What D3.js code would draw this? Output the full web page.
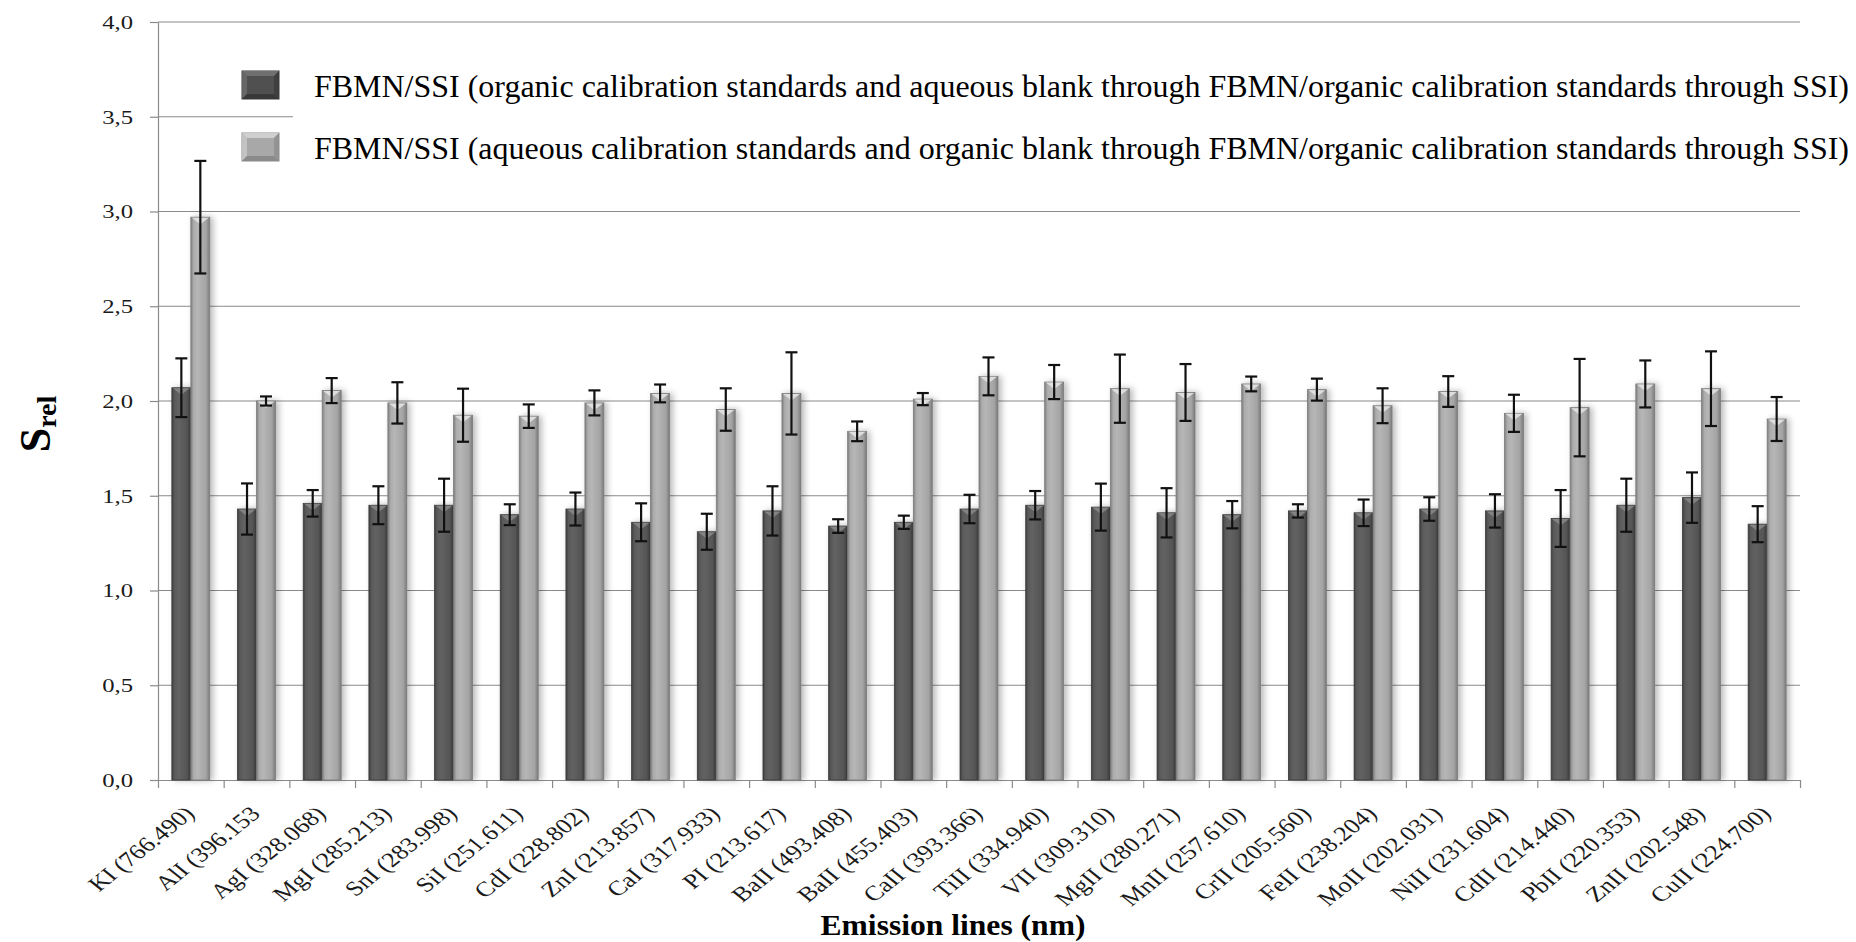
<!DOCTYPE html>
<html>
<head>
<meta charset="utf-8">
<script src="https://cdn.jsdelivr.net/npm/d3@7"></script>
<style>
  body { margin: 0; background: #fff; }
  svg { display: block; font-family: 'Liberation Serif', 'Times New Roman', serif; }
</style>
</head>
<body>
<svg id="chart" width="1856" height="942"></svg>
<script>
const categories = [
  'KI (766.490)', 'AlI (396.153', 'AgI (328.068)', 'MgI (285.213)', 'SnI (283.998)',
  'SiI (251.611)', 'CdI (228.802)', 'ZnI (213.857)', 'CaI (317.933)', 'PI (213.617)',
  'BaII (493.408)', 'BaII (455.403)', 'CaII (393.366)', 'TiII (334.940)', 'VII (309.310)',
  'MgII (280.271)', 'MnII (257.610)', 'CrII (205.560)', 'FeII (238.204)', 'MoII (202.031)',
  'NiII (231.604)', 'CdII (214.440)', 'PbII (220.353)', 'ZnII (202.548)', 'CuII (224.700)'
];

// organic calibration standards / aqueous blank (dark bars)
const organicValues = [2.07, 1.43, 1.46, 1.45, 1.45, 1.40, 1.43, 1.36, 1.31, 1.42, 1.34, 1.36, 1.43,
  1.45, 1.44, 1.41, 1.40, 1.42, 1.41, 1.43, 1.42, 1.38, 1.45, 1.49, 1.35];
const organicErrors = [0.155, 0.135, 0.07, 0.10, 0.14, 0.055, 0.087, 0.10, 0.095, 0.13, 0.036, 0.035, 0.075,
  0.075, 0.124, 0.13, 0.072, 0.035, 0.07, 0.062, 0.088, 0.15, 0.14, 0.133, 0.095];

// aqueous calibration standards / organic blank (light bars)
const aqueousValues = [2.97, 2.00, 2.055, 1.99, 1.925, 1.92, 1.99, 2.04, 1.955, 2.04, 1.84, 2.01, 2.13,
  2.10, 2.065, 2.045, 2.09, 2.06, 1.975, 2.05, 1.935, 1.965, 2.09, 2.065, 1.905];
const aqueousErrors = [0.297, 0.024, 0.066, 0.109, 0.14, 0.062, 0.066, 0.047, 0.112, 0.217, 0.052, 0.032, 0.10,
  0.09, 0.18, 0.15, 0.039, 0.058, 0.092, 0.081, 0.098, 0.257, 0.124, 0.197, 0.116];

const yTicks = [0, 0.5, 1.0, 1.5, 2.0, 2.5, 3.0, 3.5, 4.0];

const seriesNames = [
  'FBMN/SSI (organic calibration standards and aqueous blank through FBMN/organic calibration standards through SSI)',
  'FBMN/SSI (aqueous calibration standards and organic blank through FBMN/organic calibration standards through SSI)'
];

const data = categories.map((c, i) => ({
  cat: c,
  bars: [
    { key: 'org', value: organicValues[i], err: organicErrors[i] },
    { key: 'aq', value: aqueousValues[i], err: aqueousErrors[i] }
  ]
}));

const svg = d3.select('#chart');
const width = 1856;
const height = 942;
const margin = { top: 22, right: 56, bottom: 162, left: 158 };
const plotBottom = height - margin.bottom;
const plotRight = width - margin.right;

const x = d3.scaleBand()
  .domain(categories)
  .range([margin.left, plotRight])
  .padding(0);

const x1 = d3.scaleBand()
  .domain(['org', 'aq'])
  .range([0, x.bandwidth()])
  .paddingInner(0)
  .paddingOuter(0.73);

const y = d3.scaleLinear()
  .domain([0, 4])
  .range([plotBottom, margin.top]);

const fmt = (d) => d3.format('.1f')(d).replace('.', ',');

// gradients for the bevelled bars
const defs = svg.append('defs');
const grads = {
  org: [['0%', '#3c3c3c'], ['12%', '#585858'], ['35%', '#626262'], ['80%', '#555555'], ['100%', '#383838']],
  aq: [['0%', '#7e7e7e'], ['15%', '#acacac'], ['35%', '#b6b6b6'], ['80%', '#a4a4a4'], ['100%', '#7a7a7a']]
};
Object.entries(grads).forEach(([k, stops]) => {
  const g = defs.append('linearGradient').attr('id', 'grad-' + k)
    .attr('x1', '0%').attr('x2', '100%').attr('y1', '0%').attr('y2', '0%');
  stops.forEach(([o, c]) => g.append('stop').attr('offset', o).attr('stop-color', c));
});
const shadow = defs.append('filter').attr('id', 'shadow')
  .attr('x', '-50%').attr('y', '-5%').attr('width', '200%').attr('height', '110%');
shadow.append('feDropShadow').attr('dx', 3).attr('dy', 0).attr('stdDeviation', 3)
  .attr('flood-color', '#000').attr('flood-opacity', 0.28);

// gridlines
svg.append('g')
  .selectAll('line')
  .data(yTicks.filter((d) => d > 0))
  .enter()
  .append('line')
  .attr('x1', margin.left)
  .attr('x2', plotRight)
  .attr('y1', (d) => y(d))
  .attr('y2', (d) => y(d))
  .attr('stroke', '#8a8a8a')
  .attr('stroke-width', 1.2);

// y axis
const yAxis = svg.append('g')
  .attr('transform', `translate(${margin.left},0)`)
  .call(d3.axisLeft(y).tickValues(yTicks).tickFormat(fmt).tickSize(8).tickSizeOuter(0));
yAxis.select('.domain').attr('stroke', '#8a8a8a').attr('stroke-width', 1.2);
yAxis.selectAll('.tick line').attr('stroke', '#8a8a8a').attr('stroke-width', 1.2);
yAxis.selectAll('.tick text')
  .attr('x', 0)
  .attr('dy', '0.34em')
  .attr('transform', 'translate(-25,0) scale(1.3,1)')
  .attr('font-size', 19)
  .attr('font-family', "'Liberation Serif', 'Times New Roman', serif")
  .attr('fill', '#1a1a1a');

// x axis: ticks between categories
const xEdges = d3.scaleLinear().domain([0, categories.length]).range([margin.left, plotRight]);
const xAxis = svg.append('g')
  .attr('transform', `translate(0,${plotBottom})`)
  .call(d3.axisBottom(xEdges).tickValues(d3.range(categories.length + 1)).tickFormat('').tickSize(8).tickSizeOuter(0));
xAxis.select('.domain').attr('stroke', '#8a8a8a').attr('stroke-width', 1.2);
xAxis.selectAll('.tick line').attr('stroke', '#8a8a8a').attr('stroke-width', 1.2);

// category labels
svg.append('g')
  .selectAll('text')
  .data(categories)
  .enter()
  .append('text')
  .attr('transform', (d) => `translate(${x(d) + x.bandwidth() / 2 + 5},815) scale(1.25,1) rotate(-45)`)
  .attr('text-anchor', 'end')
  .attr('font-size', 21)
  .attr('fill', '#1a1a1a')
  .text((d) => d);

// bars
const groups = svg.append('g')
  .selectAll('g')
  .data(data)
  .enter()
  .append('g')
  .attr('transform', (d) => `translate(${x(d.cat)},0)`);

const bars = groups.selectAll('.bar')
  .data((d) => d.bars)
  .enter()
  .append('g')
  .attr('class', 'bar');

bars.append('rect')
  .attr('x', (d) => x1(d.key))
  .attr('y', (d) => y(d.value))
  .attr('width', x1.bandwidth())
  .attr('height', (d) => plotBottom - y(d.value))
  .attr('fill', (d) => `url(#grad-${d.key})`)
  .attr('stroke', (d) => (d.key === 'org' ? '#3a3a3a' : '#7c7c7c'))
  .attr('stroke-width', 0.8)
  .attr('filter', 'url(#shadow)');

// bevel highlight on top of each bar
bars.append('path')
  .attr('d', (d) => {
    const bx = x1(d.key);
    const w = x1.bandwidth();
    const by = y(d.value);
    return `M${bx + 1},${by + 0.5} L${bx + w - 1},${by + 0.5} L${bx + w / 2},${by + 7} Z`;
  })
  .attr('fill', (d) => (d.key === 'org' ? '#8a8a8a' : '#e6e6e6'))
  .attr('opacity', 0.85);

// error bars
const cap = 6;
const err = bars.append('g')
  .attr('stroke', '#111')
  .attr('stroke-width', 2.2);
err.append('line')
  .attr('x1', (d) => x1(d.key) + x1.bandwidth() / 2)
  .attr('x2', (d) => x1(d.key) + x1.bandwidth() / 2)
  .attr('y1', (d) => y(d.value + d.err))
  .attr('y2', (d) => y(d.value - d.err));
err.append('line')
  .attr('x1', (d) => x1(d.key) + x1.bandwidth() / 2 - cap)
  .attr('x2', (d) => x1(d.key) + x1.bandwidth() / 2 + cap)
  .attr('y1', (d) => y(d.value + d.err))
  .attr('y2', (d) => y(d.value + d.err));
err.append('line')
  .attr('x1', (d) => x1(d.key) + x1.bandwidth() / 2 - cap)
  .attr('x2', (d) => x1(d.key) + x1.bandwidth() / 2 + cap)
  .attr('y1', (d) => y(d.value - d.err))
  .attr('y2', (d) => y(d.value - d.err));

// axis titles
svg.append('text')
  .attr('x', (margin.left + plotRight) / 2 - 26)
  .attr('y', 935)
  .attr('text-anchor', 'middle')
  .attr('font-size', 30)
  .attr('font-weight', 'bold')
  .attr('textLength', 265)
  .attr('lengthAdjust', 'spacingAndGlyphs')
  .text('Emission lines (nm)');

const yTitle = svg.append('text')
  .attr('transform', 'translate(50,424) rotate(-90)')
  .attr('text-anchor', 'middle')
  .attr('font-weight', 'bold');
yTitle.append('tspan').attr('font-size', 44).text('S');
yTitle.append('tspan').attr('font-size', 28).attr('dy', 6).text('rel');

// legend
const legend = svg.append('g');
legend.append('rect')
  .attr('x', 293).attr('y', 40)
  .attr('width', width - 293).attr('height', 150)
  .attr('fill', '#fff');

const swatchColors = [
  { base: '#505050', light: '#707070', dark: '#383838' },
  { base: '#a8a8a8', light: '#cfcfcf', dark: '#8a8a8a' }
];
const legendRows = [85, 147];
seriesNames.forEach((name, i) => {
  const cy = legendRows[i];
  const sx = 242, sw = 37, sh = 28, sy = cy - sh / 2, b = 5;
  const c = swatchColors[i];
  const item = legend.append('g');
  item.append('rect').attr('x', sx).attr('y', sy).attr('width', sw).attr('height', sh)
    .attr('fill', c.base).attr('stroke', c.dark).attr('stroke-width', 1);
  item.append('path')
    .attr('d', `M${sx},${sy} L${sx + sw},${sy} L${sx + sw - b},${sy + b} L${sx + b},${sy + b} Z`)
    .attr('fill', c.light);
  item.append('path')
    .attr('d', `M${sx},${sy} L${sx + b},${sy + b} L${sx + b},${sy + sh - b} L${sx},${sy + sh} Z`)
    .attr('fill', c.light).attr('opacity', 0.7);
  item.append('path')
    .attr('d', `M${sx},${sy + sh} L${sx + b},${sy + sh - b} L${sx + sw - b},${sy + sh - b} L${sx + sw},${sy + sh} Z`)
    .attr('fill', c.dark);
  item.append('path')
    .attr('d', `M${sx + sw},${sy} L${sx + sw - b},${sy + b} L${sx + sw - b},${sy + sh - b} L${sx + sw},${sy + sh} Z`)
    .attr('fill', c.dark).attr('opacity', 0.7);
  item.append('text')
    .attr('x', 314)
    .attr('y', cy + 12)
    .attr('font-size', 32)
    .attr('fill', '#000')
    .attr('textLength', 1535)
    .attr('lengthAdjust', 'spacingAndGlyphs')
    .text(name);
});
</script>
</body>
</html>
